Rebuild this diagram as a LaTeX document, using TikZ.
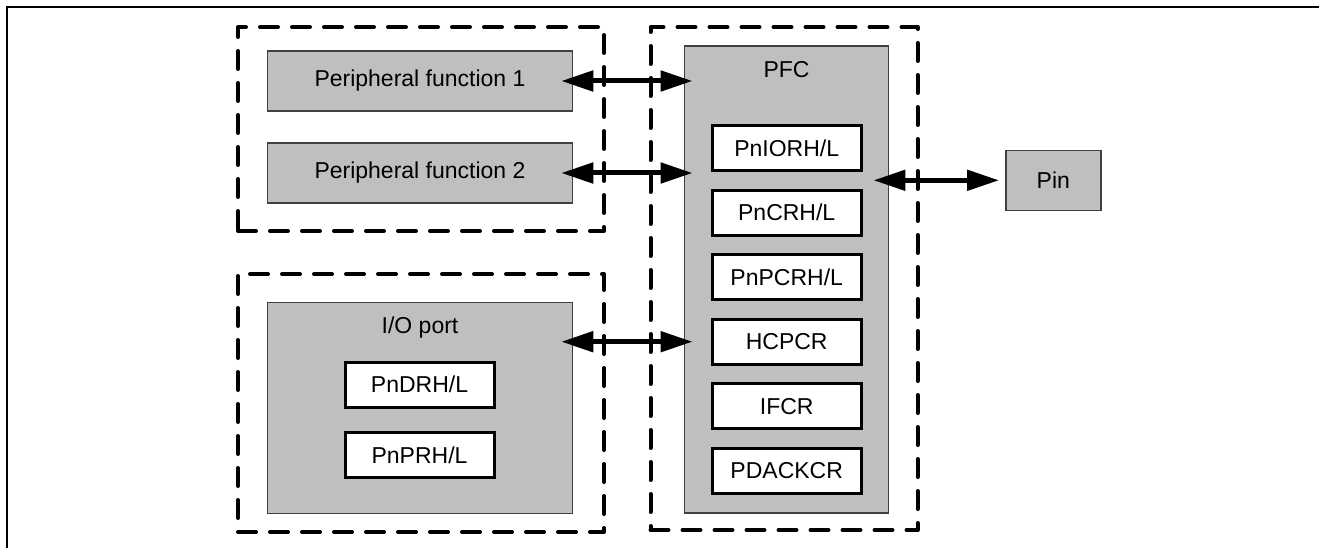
\documentclass[tikz,border=0pt]{standalone}
\usepackage{fontspec}
\setmainfont{Liberation Sans}
\usetikzlibrary{arrows.meta}

\begin{document}
\begin{tikzpicture}[x=1pt, y=-1pt,
    grp/.style={draw=black, line width=4pt, dash pattern=on 18pt off 14pt,
        line cap=round, line join=round, inner sep=0pt},
    blk/.style={draw=black!75, fill=black!25, line width=1.5pt, inner sep=0pt,
        font=\fontsize{23}{27}\selectfont},
    reg/.style={draw=black, fill=white, line width=3pt, inner sep=0pt,
        minimum width=149pt, minimum height=45pt, font=\fontsize{23}{27}\selectfont},
    lbl/.style={inner sep=0pt, font=\fontsize{23}{27}\selectfont},
    link/.style={line width=5pt,
        {Triangle[length=32pt,width=20pt]}-{Triangle[length=32pt,width=20pt]}}]
    \useasboundingbox (0,0) rectangle (1319,548);
    \draw[line width=2pt] (7,548) -- (7,7) -- (1319,7);

    % peripheral functions
    \node[grp, minimum width=366pt, minimum height=204pt] (perig) at (421,129) {};
    \node[blk, minimum width=305pt, minimum height=60pt] (per1) at (420,81) {Peripheral function 1};
    \node[blk, minimum width=305pt, minimum height=60pt] (per2) at (420,173) {Peripheral function 2};

    % I/O port
    \node[grp, minimum width=366pt, minimum height=258pt] (iog) at (421,403) {};
    \node[blk, minimum width=305pt, minimum height=211pt] (io) at (420,408) {};
    \node[lbl] (iolab) at (420,328) {I/O port};
    \node[reg] (pndr) at (419.5,384.5) {PnDRH/L};
    \node[reg] (pnpr) at (419.5,455.3) {PnPRH/L};

    % PFC
    \node[grp, minimum width=267pt, minimum height=503pt] (pfcg) at (784,278.5) {};
    \node[blk, minimum width=204pt, minimum height=467pt] (pfc) at (786.3,279.7) {};
    \node[lbl] (pfclab) at (786.5,70) {PFC};
    \node[reg] (pnior) at (786.7,148.2) {PnIORH/L};
    \node[reg] (pncr) at (786.7,212.7) {PnCRH/L};
    \node[reg] (pnpcr) at (786.7,277.2) {PnPCRH/L};
    \node[reg] (hcpcr) at (786.7,341.7) {HCPCR};
    \node[reg] (ifcr) at (786.7,406.2) {IFCR};
    \node[reg] (pdackcr) at (786.7,470.7) {PDACKCR};

    \node[blk, minimum width=95pt, minimum height=60pt] (pin) at (1053.3,180.3) {Pin};

    \draw[link] ([xshift=-12pt]per1.east) -- ([xshift=9pt]per1.east -| pfc.west);
    \draw[link] ([xshift=-12pt]per2.east) -- ([xshift=9pt]per2.east -| pfc.west);
    \draw[link] ([xshift=-12pt]io.east |- hcpcr) -- ([xshift=9pt]hcpcr -| pfc.west);
    \draw[link] ([xshift=-15.6pt]pin.west -| pfc.east) -- ([xshift=-6pt]pin.west);
\end{tikzpicture}
\end{document}
